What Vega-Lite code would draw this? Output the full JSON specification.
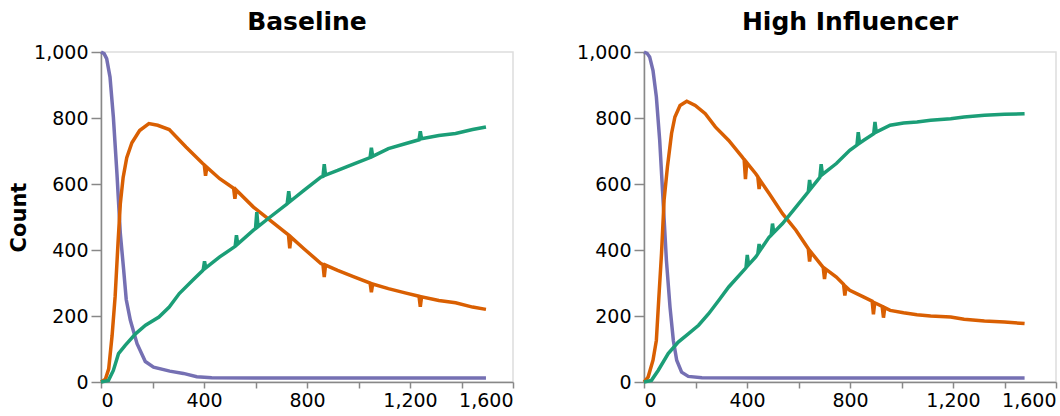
{
  "$schema": "https://vega.github.io/schema/vega-lite/v6.json",
  "padding": {"left": 7, "top": 9, "right": 0, "bottom": 5},
  "spacing": 60,
  "datasets": {
    "runs": [
      {"scenario": "Baseline", "state": "Susceptible", "step": 0, "count": 1000},
      {"scenario": "Baseline", "state": "Susceptible", "step": 12, "count": 995},
      {"scenario": "Baseline", "state": "Susceptible", "step": 22, "count": 980},
      {"scenario": "Baseline", "state": "Susceptible", "step": 35, "count": 924},
      {"scenario": "Baseline", "state": "Susceptible", "step": 48, "count": 803},
      {"scenario": "Baseline", "state": "Susceptible", "step": 62, "count": 631},
      {"scenario": "Baseline", "state": "Susceptible", "step": 75, "count": 450},
      {"scenario": "Baseline", "state": "Susceptible", "step": 88, "count": 340},
      {"scenario": "Baseline", "state": "Susceptible", "step": 98, "count": 250},
      {"scenario": "Baseline", "state": "Susceptible", "step": 114, "count": 187},
      {"scenario": "Baseline", "state": "Susceptible", "step": 140, "count": 116},
      {"scenario": "Baseline", "state": "Susceptible", "step": 172, "count": 62},
      {"scenario": "Baseline", "state": "Susceptible", "step": 204, "count": 45},
      {"scenario": "Baseline", "state": "Susceptible", "step": 267, "count": 33},
      {"scenario": "Baseline", "state": "Susceptible", "step": 320, "count": 26},
      {"scenario": "Baseline", "state": "Susceptible", "step": 372, "count": 16},
      {"scenario": "Baseline", "state": "Susceptible", "step": 430, "count": 13},
      {"scenario": "Baseline", "state": "Susceptible", "step": 600, "count": 12},
      {"scenario": "Baseline", "state": "Susceptible", "step": 900, "count": 12},
      {"scenario": "Baseline", "state": "Susceptible", "step": 1200, "count": 12},
      {"scenario": "Baseline", "state": "Susceptible", "step": 1495, "count": 12},
      {"scenario": "Baseline", "state": "Infected", "step": 0, "count": 0},
      {"scenario": "Baseline", "state": "Infected", "step": 17, "count": 8},
      {"scenario": "Baseline", "state": "Infected", "step": 30, "count": 40},
      {"scenario": "Baseline", "state": "Infected", "step": 43, "count": 140},
      {"scenario": "Baseline", "state": "Infected", "step": 55, "count": 260},
      {"scenario": "Baseline", "state": "Infected", "step": 66, "count": 420},
      {"scenario": "Baseline", "state": "Infected", "step": 75, "count": 540},
      {"scenario": "Baseline", "state": "Infected", "step": 86, "count": 620},
      {"scenario": "Baseline", "state": "Infected", "step": 100, "count": 680},
      {"scenario": "Baseline", "state": "Infected", "step": 120, "count": 725},
      {"scenario": "Baseline", "state": "Infected", "step": 150, "count": 762},
      {"scenario": "Baseline", "state": "Infected", "step": 186, "count": 783},
      {"scenario": "Baseline", "state": "Infected", "step": 220, "count": 778},
      {"scenario": "Baseline", "state": "Infected", "step": 265, "count": 765},
      {"scenario": "Baseline", "state": "Infected", "step": 330, "count": 712},
      {"scenario": "Baseline", "state": "Infected", "step": 395, "count": 662},
      {"scenario": "Baseline", "state": "Infected", "step": 401, "count": 658},
      {"scenario": "Baseline", "state": "Infected", "step": 406, "count": 625},
      {"scenario": "Baseline", "state": "Infected", "step": 411, "count": 651},
      {"scenario": "Baseline", "state": "Infected", "step": 461, "count": 616},
      {"scenario": "Baseline", "state": "Infected", "step": 515, "count": 587},
      {"scenario": "Baseline", "state": "Infected", "step": 520, "count": 555},
      {"scenario": "Baseline", "state": "Infected", "step": 525, "count": 582},
      {"scenario": "Baseline", "state": "Infected", "step": 592, "count": 530},
      {"scenario": "Baseline", "state": "Infected", "step": 657, "count": 490},
      {"scenario": "Baseline", "state": "Infected", "step": 723, "count": 449},
      {"scenario": "Baseline", "state": "Infected", "step": 728, "count": 446},
      {"scenario": "Baseline", "state": "Infected", "step": 733, "count": 405},
      {"scenario": "Baseline", "state": "Infected", "step": 738, "count": 439},
      {"scenario": "Baseline", "state": "Infected", "step": 788, "count": 404},
      {"scenario": "Baseline", "state": "Infected", "step": 854, "count": 359},
      {"scenario": "Baseline", "state": "Infected", "step": 862, "count": 356},
      {"scenario": "Baseline", "state": "Infected", "step": 867, "count": 318},
      {"scenario": "Baseline", "state": "Infected", "step": 872, "count": 354},
      {"scenario": "Baseline", "state": "Infected", "step": 919, "count": 338},
      {"scenario": "Baseline", "state": "Infected", "step": 985, "count": 318},
      {"scenario": "Baseline", "state": "Infected", "step": 1045, "count": 300},
      {"scenario": "Baseline", "state": "Infected", "step": 1050, "count": 272},
      {"scenario": "Baseline", "state": "Infected", "step": 1055, "count": 297},
      {"scenario": "Baseline", "state": "Infected", "step": 1116, "count": 283},
      {"scenario": "Baseline", "state": "Infected", "step": 1181, "count": 270},
      {"scenario": "Baseline", "state": "Infected", "step": 1235, "count": 260},
      {"scenario": "Baseline", "state": "Infected", "step": 1240, "count": 228},
      {"scenario": "Baseline", "state": "Infected", "step": 1245, "count": 258},
      {"scenario": "Baseline", "state": "Infected", "step": 1312, "count": 247},
      {"scenario": "Baseline", "state": "Infected", "step": 1377, "count": 240},
      {"scenario": "Baseline", "state": "Infected", "step": 1443, "count": 227},
      {"scenario": "Baseline", "state": "Infected", "step": 1495, "count": 220},
      {"scenario": "Baseline", "state": "Recovered", "step": 0, "count": 0},
      {"scenario": "Baseline", "state": "Recovered", "step": 29, "count": 5},
      {"scenario": "Baseline", "state": "Recovered", "step": 48, "count": 35},
      {"scenario": "Baseline", "state": "Recovered", "step": 68, "count": 86},
      {"scenario": "Baseline", "state": "Recovered", "step": 94, "count": 111},
      {"scenario": "Baseline", "state": "Recovered", "step": 134, "count": 146},
      {"scenario": "Baseline", "state": "Recovered", "step": 173, "count": 172},
      {"scenario": "Baseline", "state": "Recovered", "step": 225, "count": 197},
      {"scenario": "Baseline", "state": "Recovered", "step": 265, "count": 227},
      {"scenario": "Baseline", "state": "Recovered", "step": 304, "count": 268},
      {"scenario": "Baseline", "state": "Recovered", "step": 356, "count": 308},
      {"scenario": "Baseline", "state": "Recovered", "step": 395, "count": 338},
      {"scenario": "Baseline", "state": "Recovered", "step": 397, "count": 340},
      {"scenario": "Baseline", "state": "Recovered", "step": 402, "count": 366},
      {"scenario": "Baseline", "state": "Recovered", "step": 407, "count": 346},
      {"scenario": "Baseline", "state": "Recovered", "step": 461, "count": 379},
      {"scenario": "Baseline", "state": "Recovered", "step": 521, "count": 411},
      {"scenario": "Baseline", "state": "Recovered", "step": 526, "count": 445},
      {"scenario": "Baseline", "state": "Recovered", "step": 531, "count": 418},
      {"scenario": "Baseline", "state": "Recovered", "step": 592, "count": 460},
      {"scenario": "Baseline", "state": "Recovered", "step": 600, "count": 465},
      {"scenario": "Baseline", "state": "Recovered", "step": 605, "count": 515},
      {"scenario": "Baseline", "state": "Recovered", "step": 610, "count": 471},
      {"scenario": "Baseline", "state": "Recovered", "step": 657, "count": 500},
      {"scenario": "Baseline", "state": "Recovered", "step": 723, "count": 540},
      {"scenario": "Baseline", "state": "Recovered", "step": 729, "count": 578},
      {"scenario": "Baseline", "state": "Recovered", "step": 734, "count": 547},
      {"scenario": "Baseline", "state": "Recovered", "step": 788, "count": 581},
      {"scenario": "Baseline", "state": "Recovered", "step": 854, "count": 621},
      {"scenario": "Baseline", "state": "Recovered", "step": 862, "count": 623},
      {"scenario": "Baseline", "state": "Recovered", "step": 867, "count": 660},
      {"scenario": "Baseline", "state": "Recovered", "step": 872, "count": 627},
      {"scenario": "Baseline", "state": "Recovered", "step": 919, "count": 641},
      {"scenario": "Baseline", "state": "Recovered", "step": 985, "count": 662},
      {"scenario": "Baseline", "state": "Recovered", "step": 1045, "count": 680},
      {"scenario": "Baseline", "state": "Recovered", "step": 1050, "count": 710},
      {"scenario": "Baseline", "state": "Recovered", "step": 1055, "count": 684},
      {"scenario": "Baseline", "state": "Recovered", "step": 1116, "count": 707},
      {"scenario": "Baseline", "state": "Recovered", "step": 1181, "count": 722},
      {"scenario": "Baseline", "state": "Recovered", "step": 1235, "count": 734},
      {"scenario": "Baseline", "state": "Recovered", "step": 1240, "count": 760},
      {"scenario": "Baseline", "state": "Recovered", "step": 1245, "count": 737},
      {"scenario": "Baseline", "state": "Recovered", "step": 1312, "count": 747},
      {"scenario": "Baseline", "state": "Recovered", "step": 1377, "count": 753},
      {"scenario": "Baseline", "state": "Recovered", "step": 1443, "count": 765},
      {"scenario": "Baseline", "state": "Recovered", "step": 1495, "count": 773},
      {"scenario": "High Influencer", "state": "Susceptible", "step": 0, "count": 1000},
      {"scenario": "High Influencer", "state": "Susceptible", "step": 12, "count": 996},
      {"scenario": "High Influencer", "state": "Susceptible", "step": 22, "count": 985},
      {"scenario": "High Influencer", "state": "Susceptible", "step": 35, "count": 944},
      {"scenario": "High Influencer", "state": "Susceptible", "step": 48, "count": 864},
      {"scenario": "High Influencer", "state": "Susceptible", "step": 61, "count": 732},
      {"scenario": "High Influencer", "state": "Susceptible", "step": 74, "count": 551},
      {"scenario": "High Influencer", "state": "Susceptible", "step": 87, "count": 369},
      {"scenario": "High Influencer", "state": "Susceptible", "step": 101, "count": 227},
      {"scenario": "High Influencer", "state": "Susceptible", "step": 114, "count": 126},
      {"scenario": "High Influencer", "state": "Susceptible", "step": 127, "count": 66},
      {"scenario": "High Influencer", "state": "Susceptible", "step": 146, "count": 30},
      {"scenario": "High Influencer", "state": "Susceptible", "step": 172, "count": 17},
      {"scenario": "High Influencer", "state": "Susceptible", "step": 225, "count": 13},
      {"scenario": "High Influencer", "state": "Susceptible", "step": 600, "count": 12},
      {"scenario": "High Influencer", "state": "Susceptible", "step": 1000, "count": 12},
      {"scenario": "High Influencer", "state": "Susceptible", "step": 1478, "count": 12},
      {"scenario": "High Influencer", "state": "Infected", "step": 0, "count": 0},
      {"scenario": "High Influencer", "state": "Infected", "step": 16, "count": 15},
      {"scenario": "High Influencer", "state": "Infected", "step": 35, "count": 66},
      {"scenario": "High Influencer", "state": "Infected", "step": 48, "count": 126},
      {"scenario": "High Influencer", "state": "Infected", "step": 57, "count": 247},
      {"scenario": "High Influencer", "state": "Infected", "step": 68, "count": 389},
      {"scenario": "High Influencer", "state": "Infected", "step": 78, "count": 551},
      {"scenario": "High Influencer", "state": "Infected", "step": 91, "count": 652},
      {"scenario": "High Influencer", "state": "Infected", "step": 107, "count": 753},
      {"scenario": "High Influencer", "state": "Infected", "step": 120, "count": 803},
      {"scenario": "High Influencer", "state": "Infected", "step": 140, "count": 838},
      {"scenario": "High Influencer", "state": "Infected", "step": 166, "count": 851},
      {"scenario": "High Influencer", "state": "Infected", "step": 199, "count": 838},
      {"scenario": "High Influencer", "state": "Infected", "step": 238, "count": 813},
      {"scenario": "High Influencer", "state": "Infected", "step": 277, "count": 773},
      {"scenario": "High Influencer", "state": "Infected", "step": 329, "count": 732},
      {"scenario": "High Influencer", "state": "Infected", "step": 381, "count": 682},
      {"scenario": "High Influencer", "state": "Infected", "step": 389, "count": 674},
      {"scenario": "High Influencer", "state": "Infected", "step": 394, "count": 615},
      {"scenario": "High Influencer", "state": "Infected", "step": 399, "count": 665},
      {"scenario": "High Influencer", "state": "Infected", "step": 434, "count": 631},
      {"scenario": "High Influencer", "state": "Infected", "step": 442, "count": 622},
      {"scenario": "High Influencer", "state": "Infected", "step": 447, "count": 585},
      {"scenario": "High Influencer", "state": "Infected", "step": 452, "count": 610},
      {"scenario": "High Influencer", "state": "Infected", "step": 486, "count": 571},
      {"scenario": "High Influencer", "state": "Infected", "step": 538, "count": 510},
      {"scenario": "High Influencer", "state": "Infected", "step": 590, "count": 460},
      {"scenario": "High Influencer", "state": "Infected", "step": 638, "count": 404},
      {"scenario": "High Influencer", "state": "Infected", "step": 643, "count": 365},
      {"scenario": "High Influencer", "state": "Infected", "step": 648, "count": 394},
      {"scenario": "High Influencer", "state": "Infected", "step": 695, "count": 348},
      {"scenario": "High Influencer", "state": "Infected", "step": 696, "count": 347},
      {"scenario": "High Influencer", "state": "Infected", "step": 701, "count": 312},
      {"scenario": "High Influencer", "state": "Infected", "step": 706, "count": 342},
      {"scenario": "High Influencer", "state": "Infected", "step": 747, "count": 318},
      {"scenario": "High Influencer", "state": "Infected", "step": 775, "count": 296},
      {"scenario": "High Influencer", "state": "Infected", "step": 780, "count": 262},
      {"scenario": "High Influencer", "state": "Infected", "step": 785, "count": 288},
      {"scenario": "High Influencer", "state": "Infected", "step": 799, "count": 278},
      {"scenario": "High Influencer", "state": "Infected", "step": 852, "count": 258},
      {"scenario": "High Influencer", "state": "Infected", "step": 886, "count": 245},
      {"scenario": "High Influencer", "state": "Infected", "step": 891, "count": 205},
      {"scenario": "High Influencer", "state": "Infected", "step": 896, "count": 240},
      {"scenario": "High Influencer", "state": "Infected", "step": 904, "count": 237},
      {"scenario": "High Influencer", "state": "Infected", "step": 925, "count": 229},
      {"scenario": "High Influencer", "state": "Infected", "step": 930, "count": 195},
      {"scenario": "High Influencer", "state": "Infected", "step": 935, "count": 225},
      {"scenario": "High Influencer", "state": "Infected", "step": 956, "count": 217},
      {"scenario": "High Influencer", "state": "Infected", "step": 1008, "count": 210},
      {"scenario": "High Influencer", "state": "Infected", "step": 1060, "count": 204},
      {"scenario": "High Influencer", "state": "Infected", "step": 1113, "count": 200},
      {"scenario": "High Influencer", "state": "Infected", "step": 1191, "count": 197},
      {"scenario": "High Influencer", "state": "Infected", "step": 1243, "count": 190},
      {"scenario": "High Influencer", "state": "Infected", "step": 1322, "count": 185},
      {"scenario": "High Influencer", "state": "Infected", "step": 1400, "count": 182},
      {"scenario": "High Influencer", "state": "Infected", "step": 1478, "count": 177},
      {"scenario": "High Influencer", "state": "Recovered", "step": 0, "count": 0},
      {"scenario": "High Influencer", "state": "Recovered", "step": 29, "count": 5},
      {"scenario": "High Influencer", "state": "Recovered", "step": 55, "count": 35},
      {"scenario": "High Influencer", "state": "Recovered", "step": 94, "count": 86},
      {"scenario": "High Influencer", "state": "Recovered", "step": 133, "count": 121},
      {"scenario": "High Influencer", "state": "Recovered", "step": 172, "count": 146},
      {"scenario": "High Influencer", "state": "Recovered", "step": 212, "count": 172},
      {"scenario": "High Influencer", "state": "Recovered", "step": 251, "count": 207},
      {"scenario": "High Influencer", "state": "Recovered", "step": 290, "count": 247},
      {"scenario": "High Influencer", "state": "Recovered", "step": 329, "count": 288},
      {"scenario": "High Influencer", "state": "Recovered", "step": 381, "count": 333},
      {"scenario": "High Influencer", "state": "Recovered", "step": 396, "count": 346},
      {"scenario": "High Influencer", "state": "Recovered", "step": 401, "count": 385},
      {"scenario": "High Influencer", "state": "Recovered", "step": 406, "count": 355},
      {"scenario": "High Influencer", "state": "Recovered", "step": 434, "count": 379},
      {"scenario": "High Influencer", "state": "Recovered", "step": 442, "count": 388},
      {"scenario": "High Influencer", "state": "Recovered", "step": 447, "count": 418},
      {"scenario": "High Influencer", "state": "Recovered", "step": 452, "count": 400},
      {"scenario": "High Influencer", "state": "Recovered", "step": 486, "count": 439},
      {"scenario": "High Influencer", "state": "Recovered", "step": 494, "count": 445},
      {"scenario": "High Influencer", "state": "Recovered", "step": 499, "count": 480},
      {"scenario": "High Influencer", "state": "Recovered", "step": 504, "count": 453},
      {"scenario": "High Influencer", "state": "Recovered", "step": 538, "count": 480},
      {"scenario": "High Influencer", "state": "Recovered", "step": 590, "count": 530},
      {"scenario": "High Influencer", "state": "Recovered", "step": 638, "count": 576},
      {"scenario": "High Influencer", "state": "Recovered", "step": 643, "count": 612},
      {"scenario": "High Influencer", "state": "Recovered", "step": 648, "count": 586},
      {"scenario": "High Influencer", "state": "Recovered", "step": 683, "count": 620},
      {"scenario": "High Influencer", "state": "Recovered", "step": 688, "count": 660},
      {"scenario": "High Influencer", "state": "Recovered", "step": 693, "count": 629},
      {"scenario": "High Influencer", "state": "Recovered", "step": 747, "count": 662},
      {"scenario": "High Influencer", "state": "Recovered", "step": 799, "count": 702},
      {"scenario": "High Influencer", "state": "Recovered", "step": 827, "count": 718},
      {"scenario": "High Influencer", "state": "Recovered", "step": 832, "count": 757},
      {"scenario": "High Influencer", "state": "Recovered", "step": 837, "count": 724},
      {"scenario": "High Influencer", "state": "Recovered", "step": 852, "count": 732},
      {"scenario": "High Influencer", "state": "Recovered", "step": 892, "count": 752},
      {"scenario": "High Influencer", "state": "Recovered", "step": 897, "count": 788},
      {"scenario": "High Influencer", "state": "Recovered", "step": 902, "count": 757},
      {"scenario": "High Influencer", "state": "Recovered", "step": 956, "count": 778},
      {"scenario": "High Influencer", "state": "Recovered", "step": 1008, "count": 785},
      {"scenario": "High Influencer", "state": "Recovered", "step": 1060, "count": 788},
      {"scenario": "High Influencer", "state": "Recovered", "step": 1113, "count": 793},
      {"scenario": "High Influencer", "state": "Recovered", "step": 1191, "count": 798},
      {"scenario": "High Influencer", "state": "Recovered", "step": 1243, "count": 803},
      {"scenario": "High Influencer", "state": "Recovered", "step": 1322, "count": 808},
      {"scenario": "High Influencer", "state": "Recovered", "step": 1400, "count": 811},
      {"scenario": "High Influencer", "state": "Recovered", "step": 1478, "count": 813}
    ]
  },
  "config": {
    "font": "DejaVu Sans",
    "axis": {
      "grid": false,
      "labelFontSize": 19,
      "labelColor": "#000",
      "titleFontSize": 21,
      "titleFontWeight": "bold",
      "titleColor": "#000",
      "tickWidth": 1.5,
      "domainWidth": 1.5,
      "domainColor": "#888",
      "tickColor": "#888",
      "labelPadding": 3
    },
    "axisX": {"tickSize": 6},
    "axisY": {"tickSize": 10},
    "title": {"fontSize": 25, "fontWeight": "bold", "color": "#000", "offset": 8},
    "view": {"stroke": "#ddd", "strokeWidth": 1.5},
    "line": {"strokeWidth": 3.5}
  },
  "hconcat": [
    {
      "title": "Baseline",
      "width": 412,
      "height": 330,
      "data": {"name": "runs"},
      "transform": [{"filter": "datum.scenario === 'Baseline'"}],
      "mark": {"type": "line"},
      "encoding": {
        "x": {"field": "step", "type": "quantitative", "title": null, "scale": {"domain": [0, 1600]}},
        "y": {"field": "count", "type": "quantitative", "title": "Count", "scale": {"domain": [0, 1000]},
          "axis": {"values": [0, 200, 400, 600, 800, 1000]}},
        "color": {"field": "state", "type": "nominal", "legend": null,
          "scale": {"domain": ["Recovered", "Infected", "Susceptible"], "range": ["#1b9e77", "#d95f02", "#7570b3"]}},
        "order": {"field": "step", "type": "quantitative"}
      }
    },
    {
      "title": "High Influencer",
      "width": 412,
      "height": 330,
      "data": {"name": "runs"},
      "transform": [{"filter": "datum.scenario === 'High Influencer'"}],
      "mark": {"type": "line"},
      "encoding": {
        "x": {"field": "step", "type": "quantitative", "title": null, "scale": {"domain": [0, 1600]}},
        "y": {"field": "count", "type": "quantitative", "title": null, "scale": {"domain": [0, 1000]},
          "axis": {"values": [0, 200, 400, 600, 800, 1000]}},
        "color": {"field": "state", "type": "nominal", "legend": null,
          "scale": {"domain": ["Recovered", "Infected", "Susceptible"], "range": ["#1b9e77", "#d95f02", "#7570b3"]}},
        "order": {"field": "step", "type": "quantitative"}
      }
    }
  ]
}
